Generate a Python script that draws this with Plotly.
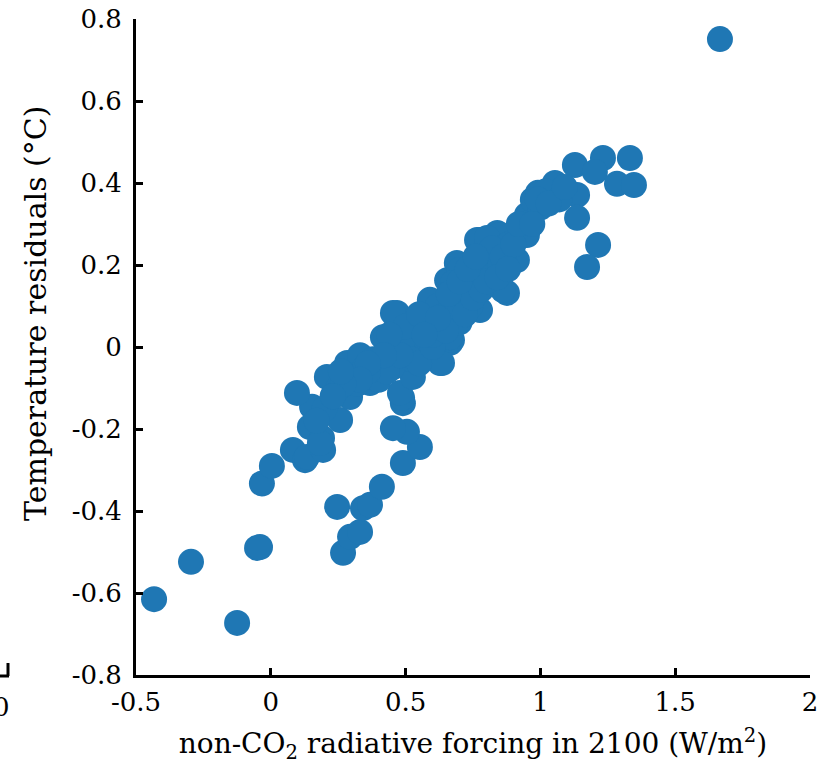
import plotly.graph_objects as go

# non-CO2 radiative forcing in 2100 (W/m^2)
forcing = [
    -0.433, -0.296, -0.125, -0.051, -0.040, -0.033, 0.004,
    0.246, 0.268, 0.294, 0.331, 0.342, 0.368, 0.412, 0.490, 0.553, 0.505, 0.453, 0.490, 0.487, 0.479,
    0.082, 0.127, 0.134, 0.145, 0.153, 0.190, 0.194, 0.182, 0.097, 0.208, 0.257, 0.294, 0.283, 0.331,
    0.368, 0.416, 0.468, 0.453, 0.527, 0.565, 0.628, 0.665, 0.635, 0.672, 0.590, 0.654, 0.690, 0.700,
    0.676, 0.776, 0.765, 0.840, 0.850, 0.802, 0.898, 0.913, 0.876, 0.861, 0.776, 0.665, 0.935, 0.950,
    0.950, 0.961, 0.972, 0.991, 1.054, 1.128, 1.232, 1.332, 1.202, 1.284, 1.347, 1.136, 1.136, 1.214,
    1.173, 1.666,
    0.200, 0.250, 0.300, 0.350, 0.400, 0.450, 0.500, 0.550, 0.600, 0.620, 0.650, 0.700, 0.720, 0.750,
    0.780, 0.800, 0.820, 0.850, 0.880, 0.700, 0.740, 0.580, 0.520, 0.450, 0.400, 0.380, 0.430,
    1.020, 1.070, 1.000, 0.990, 0.170, 0.230, 0.320, 0.360, 0.600, 0.640,
    0.500, 0.550, 0.550, 0.600, 0.600, 0.650, 0.680, 0.720, 0.750, 0.780, 0.800, 0.820, 0.860, 0.900,
    0.660, 0.620, 0.570, 0.480, 0.440, 0.420, 0.360, 0.330, 0.270, 0.230, 0.260, 0.700, 0.730, 0.760,
    0.840, 0.880, 0.920, 0.970, 1.030, 1.090,
]
# Temperature residuals (deg C)
residuals = [
    -0.615, -0.524, -0.673, -0.490, -0.488, -0.333, -0.290,
    -0.390, -0.502, -0.463, -0.451, -0.393, -0.385, -0.341, -0.283, -0.244, -0.207, -0.198, -0.137, -0.124, -0.112,
    -0.251, -0.276, -0.268, -0.195, -0.146, -0.222, -0.251, -0.234, -0.112, -0.073, -0.178, -0.122, -0.039, -0.020,
    -0.088, 0.024, 0.083, 0.083, -0.073, -0.015, -0.039, 0.010, -0.039, 0.017, 0.115, 0.163, 0.205, 0.188,
    0.156, 0.261, 0.261, 0.278, 0.273, 0.266, 0.220, 0.212, 0.132, 0.139, 0.090, 0.024, 0.278, 0.273,
    0.322, 0.327, 0.359, 0.376, 0.400, 0.444, 0.461, 0.461, 0.427, 0.398, 0.395, 0.371, 0.315, 0.249,
    0.195, 0.751,
    -0.150, -0.100, -0.070, -0.050, -0.030, 0.000, 0.020, 0.050, 0.060, 0.100, 0.080, 0.120, 0.150, 0.170,
    0.200, 0.220, 0.180, 0.200, 0.250, 0.060, 0.100, 0.000, -0.030, -0.050, -0.080, -0.030, -0.060,
    0.380, 0.360, 0.340, 0.360, -0.180, -0.120, -0.090, -0.060, 0.020, 0.050,
    0.050, 0.080, -0.040, 0.000, 0.030, 0.040, 0.100, 0.080, 0.120, 0.140, 0.160, 0.240, 0.220, 0.250,
    0.130, 0.070, 0.030, -0.020, 0.030, -0.020, -0.040, -0.080, -0.090, -0.120, -0.060, 0.160, 0.190, 0.220,
    0.170, 0.190, 0.300, 0.300, 0.350, 0.390,
]

x_ticks = [-0.5, 0, 0.5, 1, 1.5, 2]
x_ticktext = ["-0.5", "0", "0.5", "1", "1.5", "2"]
y_ticks = [-0.8, -0.6, -0.4, -0.2, 0, 0.2, 0.4, 0.6, 0.8]
y_ticktext = ["-0.8", "-0.6", "-0.4", "-0.2", "0", "0.2", "0.4", "0.6", "0.8"]

FONT = "DejaVu Serif"

fig = go.Figure()
fig.add_trace(go.Scatter(
    x=forcing, y=residuals, mode="markers",
    marker=dict(size=26, color="#1f77b4", line=dict(width=0)),
    showlegend=False, hoverinfo="x+y",
))

axis_common = dict(
    showline=True, linecolor="black", linewidth=3,
    ticks="inside", ticklen=7, tickwidth=3, tickcolor="black",
    showgrid=False, zeroline=False, mirror=False, automargin=False,
    tickfont=dict(family=FONT, size=26, color="black"),
)

fig.update_layout(
    width=825, height=770,
    margin=dict(l=136, r=15, t=19, b=95),
    paper_bgcolor="white", plot_bgcolor="white",
    xaxis=dict(range=[-0.5, 2], tickvals=x_ticks, ticktext=x_ticktext,
               ticklabelstandoff=2,
               title=dict(text="non-CO<sub>2</sub> radiative forcing in 2100 (W/m<sup>2</sup>)",
                          font=dict(family=FONT, size=28, color="black"), standoff=18),
               **axis_common),
    yaxis=dict(range=[-0.8, 0.8], tickvals=y_ticks, ticktext=y_ticktext,
               ticklabelstandoff=6, **axis_common),
    annotations=[
        dict(text="Temperature residuals (°C)", textangle=-90, xref="paper", yref="paper",
             x=(35 - 136) / 674, y=(675 - 314) / 656, xanchor="center", yanchor="middle",
             showarrow=False, font=dict(family=FONT, size=30, color="black")),
        dict(text="0", xref="paper", yref="paper", x=(1 - 136) / 674, y=(675 - 707) / 656,
             xanchor="center", yanchor="middle", showarrow=False,
             font=dict(family=FONT, size=26, color="black")),
    ],
    shapes=[
        dict(type="line", xref="paper", yref="paper", x0=(0 - 136) / 674, x1=(9 - 136) / 674,
             y0=(675 - 676) / 656, y1=(675 - 676) / 656, line=dict(color="black", width=3)),
        dict(type="line", xref="paper", yref="paper", x0=(8 - 136) / 674, x1=(8 - 136) / 674,
             y0=(675 - 676) / 656, y1=(675 - 663) / 656, line=dict(color="black", width=3)),
    ],
)

fig.write_html("out.html")
